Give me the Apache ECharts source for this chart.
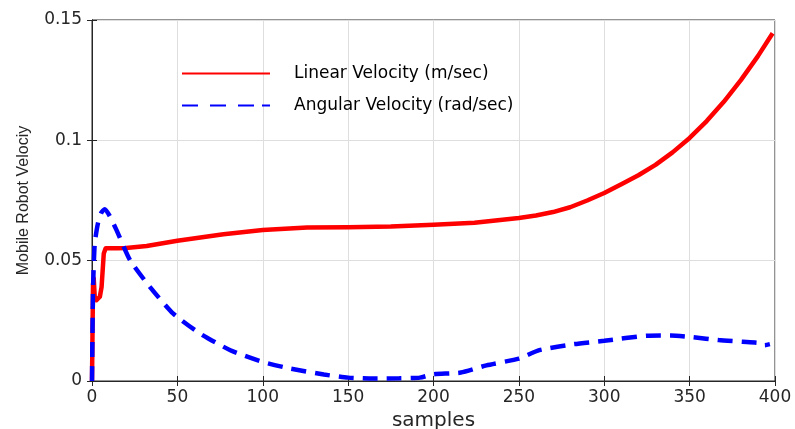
<!DOCTYPE html>
<html>
<head>
<meta charset="utf-8">
<script src="https://cdn.jsdelivr.net/npm/echarts@6/dist/echarts.min.js"></script>
<style>html,body{margin:0;padding:0;background:#fff}#c{width:795px;height:429px}</style>
</head>
<body>
<div id="c"></div>
<script>
// ---- data ----
const xTicks = [0, 50, 100, 150, 200, 250, 300, 350, 400];
const yTicks = [0, 0.05, 0.1, 0.15];

const linearX = [0, 0.6, 1.0, 1.6, 2.6, 3.6, 4.6, 5.6, 6.9, 8.0, 15, 20, 32, 50, 77, 100, 126, 150, 175, 200, 224, 250, 260, 270, 280, 290, 300, 310, 320, 330, 340, 350, 360, 370, 380, 390, 398.6];
const linearV = [0, 0.040, 0.0427, 0.035, 0.0336, 0.0335, 0.035, 0.039, 0.053, 0.0552, 0.0552, 0.0553, 0.0561, 0.0583, 0.061, 0.0627, 0.0638, 0.0639, 0.0642, 0.0649, 0.0658, 0.0677, 0.0688, 0.0702, 0.0722, 0.0750, 0.0781, 0.0818, 0.0855, 0.0898, 0.0950, 0.1010, 0.1080, 0.1160, 0.1250, 0.1350, 0.1445];

const angularX = [0, 0.6, 1.6, 3.5, 5.5, 7.5, 10, 14.3, 22.2, 34, 47.6, 63.3, 81, 100, 116, 135.8, 150, 165, 180, 192, 200, 216, 231, 250, 262, 282, 300, 325, 339, 352, 367, 381, 391, 394, 397];
const angularV = [0, 0.038, 0.057, 0.0656, 0.070, 0.0714, 0.069, 0.0628, 0.0503, 0.039, 0.028, 0.0197, 0.0128, 0.0079, 0.0052, 0.0027, 0.0014, 0.001, 0.0011, 0.0014, 0.0028, 0.0035, 0.0065, 0.0093, 0.0128, 0.0153, 0.0167, 0.0188, 0.0189, 0.0182, 0.017, 0.0163, 0.0158, 0.0149, 0.0153];

const seriesNames = ['Linear Velocity (m/sec)', 'Angular Velocity (rad/sec)'];

const pair = (xs, ys) => xs.map((x, i) => [x, ys[i]]);

const chart = echarts.init(document.getElementById('c'), null, {renderer: 'canvas'});
const axisColor = '#262626';
const tickFont = {fontFamily: 'DejaVu Sans', fontSize: 17, color: axisColor};
const xStep = xTicks[1] - xTicks[0];
const yStep = yTicks[1] - yTicks[0];

chart.setOption({
  animation: false,
  backgroundColor: '#fff',
  grid: {left: 92, right: 20, top: 20, bottom: 48, outerBoundsMode: 'none', containLabel: false, show: true, borderColor: axisColor, borderWidth: 1, backgroundColor: 'transparent'},
  legend: {
    orient: 'vertical',
    left: 177,
    top: 60,
    itemWidth: 88,
    itemHeight: 2,
    itemGap: 15,
    symbolKeepAspect: false,
    itemStyle: {borderWidth: 0},
    textStyle: {fontFamily: 'DejaVu Sans', fontSize: 17, lineHeight: 17, color: '#000', padding: [0, 0, 0, 19]},
    data: [
      {name: seriesNames[0], icon: 'path://M0,0h88v1h-88z'},
      {name: seriesNames[1], icon: 'path://M0,0h16v1h-16z M28,0h16v1h-16z M56,0h16v1h-16z M80,0h8v1h-8z'}
    ]
  },
  xAxis: [{
    type: 'value', min: xTicks[0], max: xTicks[xTicks.length - 1], interval: xStep,
    name: 'samples', nameLocation: 'middle', nameGap: 21,
    nameTextStyle: {fontFamily: 'DejaVu Sans', fontSize: 20, color: axisColor},
    axisLine: {show: true, onZero: false, lineStyle: {color: axisColor, width: 1}},
    axisTick: {show: true, inside: true, length: 5, lineStyle: {color: axisColor}},
    axisLabel: Object.assign({margin: 8}, tickFont),
    splitLine: {show: true, lineStyle: {color: '#dedede', width: 1}}
  }, {
    type: 'value', position: 'top', min: xTicks[0], max: xTicks[xTicks.length - 1], interval: xStep,
    axisLine: {show: true, lineStyle: {color: axisColor}},
    axisTick: {show: true, inside: true, length: 5, lineStyle: {color: axisColor}},
    axisLabel: {show: false}, splitLine: {show: false}
  }],
  yAxis: [{
    type: 'value', min: yTicks[0], max: yTicks[yTicks.length - 1], interval: yStep,
    name: 'Mobile Robot Velociy', nameLocation: 'middle', nameGap: 60, nameRotate: 90,
    nameTextStyle: {fontFamily: 'Liberation Sans', fontSize: 16, color: axisColor},
    axisLine: {show: true, onZero: false, lineStyle: {color: axisColor, width: 1}},
    axisTick: {show: true, inside: true, length: 5, lineStyle: {color: axisColor}},
    axisLabel: Object.assign({margin: 10}, tickFont),
    splitLine: {show: true, lineStyle: {color: '#dedede', width: 1}}
  }, {
    type: 'value', position: 'right', min: yTicks[0], max: yTicks[yTicks.length - 1], interval: yStep,
    axisLine: {show: true, lineStyle: {color: axisColor}},
    axisTick: {show: true, inside: true, length: 5, lineStyle: {color: axisColor}},
    axisLabel: {show: false}, splitLine: {show: false}
  }],
  series: [{
    name: seriesNames[0], type: 'line', xAxisIndex: 0, yAxisIndex: 0,
    data: pair(linearX, linearV), symbol: 'none', smooth: false,
    lineStyle: {color: '#ff0000', width: 4.5, join: 'round'},
    itemStyle: {color: '#ff0000'}
  }, {
    name: seriesNames[1], type: 'line', xAxisIndex: 0, yAxisIndex: 0,
    data: pair(angularX, angularV), symbol: 'none', smooth: 0.2,
    lineStyle: {color: '#0000ff', width: 4.5, type: [15, 9]},
    itemStyle: {color: '#0000ff'}
  }]
});
</script>
</body>
</html>
